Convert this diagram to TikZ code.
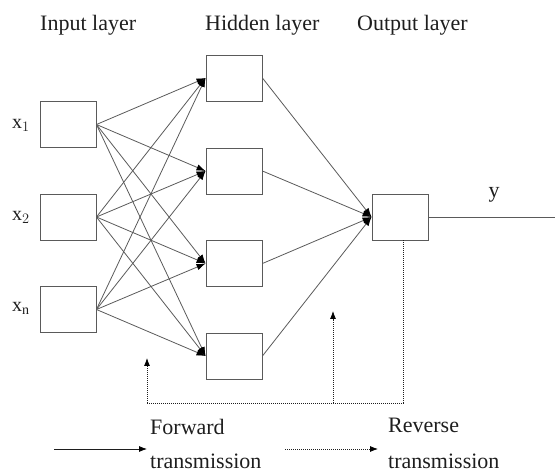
\documentclass[tikz,border=0pt]{standalone}
\usepackage{fontspec}
\setmainfont{Liberation Serif}
\usetikzlibrary{arrows.meta}
\definecolor{linegray}{HTML}{5A5A5A}
\definecolor{txt}{HTML}{1E1E1E}
\tikzset{
  unitbox/.style={draw=linegray, line width=0.9pt, minimum width=56pt, minimum height=46pt, inner sep=0pt},
  conn/.style={draw=linegray, line width=0.8pt, -{Latex[length=9pt,width=6.5pt,color=black]}},
  fb/.style={draw=txt, line width=0.8pt, dash pattern=on 1pt off 1pt},
  fbtip/.style={-{Latex[length=8pt,width=6pt,color=black]}},
  lbl/.style={font=\fontsize{22}{26}\selectfont, text=txt, inner sep=0pt},
  xl/.style={font=\fontsize{20}{24}\selectfont, text=txt, inner sep=0pt}
}
\begin{document}
\begin{tikzpicture}[x=1pt,y=-1pt]
\useasboundingbox (0,0) rectangle (555,473);
% titles
\node[lbl, anchor=west] (tin) at (40,25) {Input layer};
\node[lbl, anchor=west] (thid) at (205,25) {Hidden layer};
\node[lbl, anchor=west] (tout) at (357,25) {Output layer};
% input boxes
\node[unitbox] (i1) at (68,124.5) {};
\node[unitbox] (i2) at (68,217) {};
\node[unitbox] (i3) at (68,309.5) {};
\node[xl] (lx1) at (21,125) {x$_1$};
\node[xl] (lx2) at (21,217) {x$_2$};
\node[xl] (lx3) at (21,308) {x$_{\mathrm{n}}$};
% hidden boxes
\node[unitbox] (h1) at (234,78) {};
\node[unitbox] (h2) at (234,171) {};
\node[unitbox] (h3) at (234,263.5) {};
\node[unitbox] (h4) at (234,356) {};
% output box
\node[unitbox] (o) at (400,217) {};
\coordinate (yend) at (555,217);
\draw[draw=linegray, line width=0.8pt] (o.east) -- (yend);
\node[lbl] (ylab) at (494,195) {y};
% input -> hidden
\foreach \i in {1,2,3}{
  \foreach \h in {1,2,3,4}{
    \draw[conn] (i\i.east) -- (h\h.west);
  }
}
% hidden -> output
\foreach \h in {1,2,3,4}{
  \draw[conn] (h\h.east) -- (o.west);
}
% feedback path
\coordinate (fbtop) at ([xshift=3pt]o.south);
\coordinate (fbcorner) at (403,403);
\coordinate (fbleft) at (147,403);
\coordinate (fblefttip) at (147,358);
\coordinate (fbmid) at (333,403);
\coordinate (fbmidtip) at (333,311);
\draw[fb] (fbtop) -- (fbcorner) -- (fbleft);
\draw[fb, fbtip] (fbleft) -- (fblefttip);
\draw[fb, fbtip] (fbmid) -- (fbmidtip);
% legend
\coordinate (fa) at (54,449);
\coordinate (fb2) at (147,449);
\draw[draw=txt, line width=0.8pt, fbtip] (fa) -- (fb2);
\node[lbl, anchor=west] (fw1) at (150,427) {Forward};
\node[lbl, anchor=west] (fw2) at (150,461) {transmission};
\coordinate (ra) at (285,449);
\coordinate (rb) at (378,449);
\draw[fb, fbtip] (ra) -- (rb);
\node[lbl, anchor=west] (rv1) at (388,425) {Reverse};
\node[lbl, anchor=west] (rv2) at (388,461) {transmission};
\end{tikzpicture}
\end{document}
